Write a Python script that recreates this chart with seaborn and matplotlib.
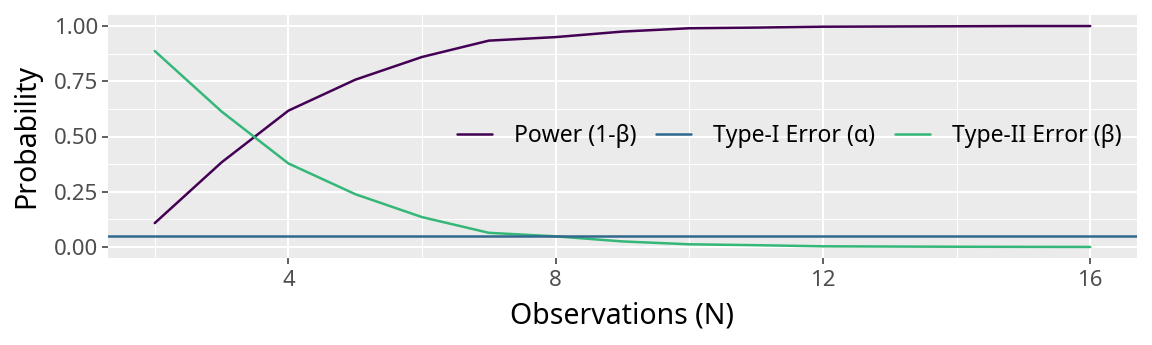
import numpy as np
import pandas as pd
import matplotlib
matplotlib.use("Agg")
import matplotlib.pyplot as plt
from matplotlib.ticker import FixedLocator
import seaborn as sns

# ---- data ----
n_obs = [2, 3, 4, 5, 6, 7, 8, 9, 10, 11, 12, 13, 14, 15, 16]
power = [0.108, 0.383, 0.617, 0.757, 0.860, 0.934, 0.950, 0.975, 0.990, 0.993, 0.997, 0.998, 0.999, 1.000, 1.000]
type2 = [0.887, 0.613, 0.378, 0.239, 0.135, 0.064, 0.048, 0.025, 0.012, 0.008, 0.003, 0.002, 0.001, 0.0005, 0.000]
alpha_level = 0.05
labels = ["Power (1-β)", "Type-I Error (α)", "Type-II Error (β)"]
colors = ["#440154", "#31688E", "#35B779"]
x_ticks = [4, 8, 12, 16]
y_ticks = [0.0, 0.25, 0.5, 0.75, 1.0]

sns.set_theme(style="darkgrid")
plt.rcParams["font.family"] = ["Noto Sans", "DejaVu Sans"]

df = pd.DataFrame({
    "N": n_obs * 2,
    "prob": power + type2,
    "series": [labels[0]] * len(n_obs) + [labels[2]] * len(n_obs),
})

fig = plt.figure(figsize=(11.52, 3.45), dpi=100)
ax = fig.add_axes([108 / 1152, 1 - 258 / 345, (1137 - 108) / 1152, (258 - 15) / 345])
ax.set_facecolor("#EBEBEB")

sns.lineplot(data=df, x="N", y="prob", hue="series",
             palette={labels[0]: colors[0], labels[2]: colors[2]},
             linewidth=1.8, ax=ax, legend=False, zorder=3)
ax.axhline(alpha_level, color=colors[1], linewidth=1.8, zorder=3)

ax.set_xlim(1.3, 16.7)
ax.set_ylim(-0.05, 1.05)
ax.xaxis.set_major_locator(FixedLocator(x_ticks))
ax.xaxis.set_minor_locator(FixedLocator([2, 6, 10, 14]))
ax.yaxis.set_major_locator(FixedLocator(y_ticks))
ax.yaxis.set_minor_locator(FixedLocator([0.125, 0.375, 0.625, 0.875]))
ax.set_yticklabels([f"{v:.2f}" for v in y_ticks])
ax.set_xticklabels([str(v) for v in x_ticks])

ax.grid(which="major", color="white", linewidth=1.5)
ax.grid(which="minor", color="white", linewidth=0.75)
ax.set_axisbelow(True)
for s in ax.spines.values():
    s.set_visible(False)

ax.tick_params(axis="x", which="major", pad=5)
ax.tick_params(axis="both", which="major", labelsize=16, labelcolor="#4D4D4D",
               color="#333333", length=4, width=1.1, bottom=True, left=True)
ax.tick_params(axis="y", which="major", pad=3)
ax.tick_params(axis="both", which="minor", length=0)

ax.set_xlabel("Observations (N)", fontsize=20.5, color="black", labelpad=7)
ax.set_ylabel("Probability", fontsize=20.5, color="black", labelpad=9)

handles = [plt.Line2D([], [], color=c, linewidth=1.8) for c in colors]
leg = ax.legend(handles, labels, loc="center right", bbox_to_anchor=(0.994, 0.5),
                ncol=3, frameon=False, fontsize=16.5, handlelength=1.55,
                handletextpad=0.95, columnspacing=0.85, borderaxespad=0.0)
for t in leg.get_texts():
    t.set_color("black")

fig.savefig("out.png", dpi=100)
